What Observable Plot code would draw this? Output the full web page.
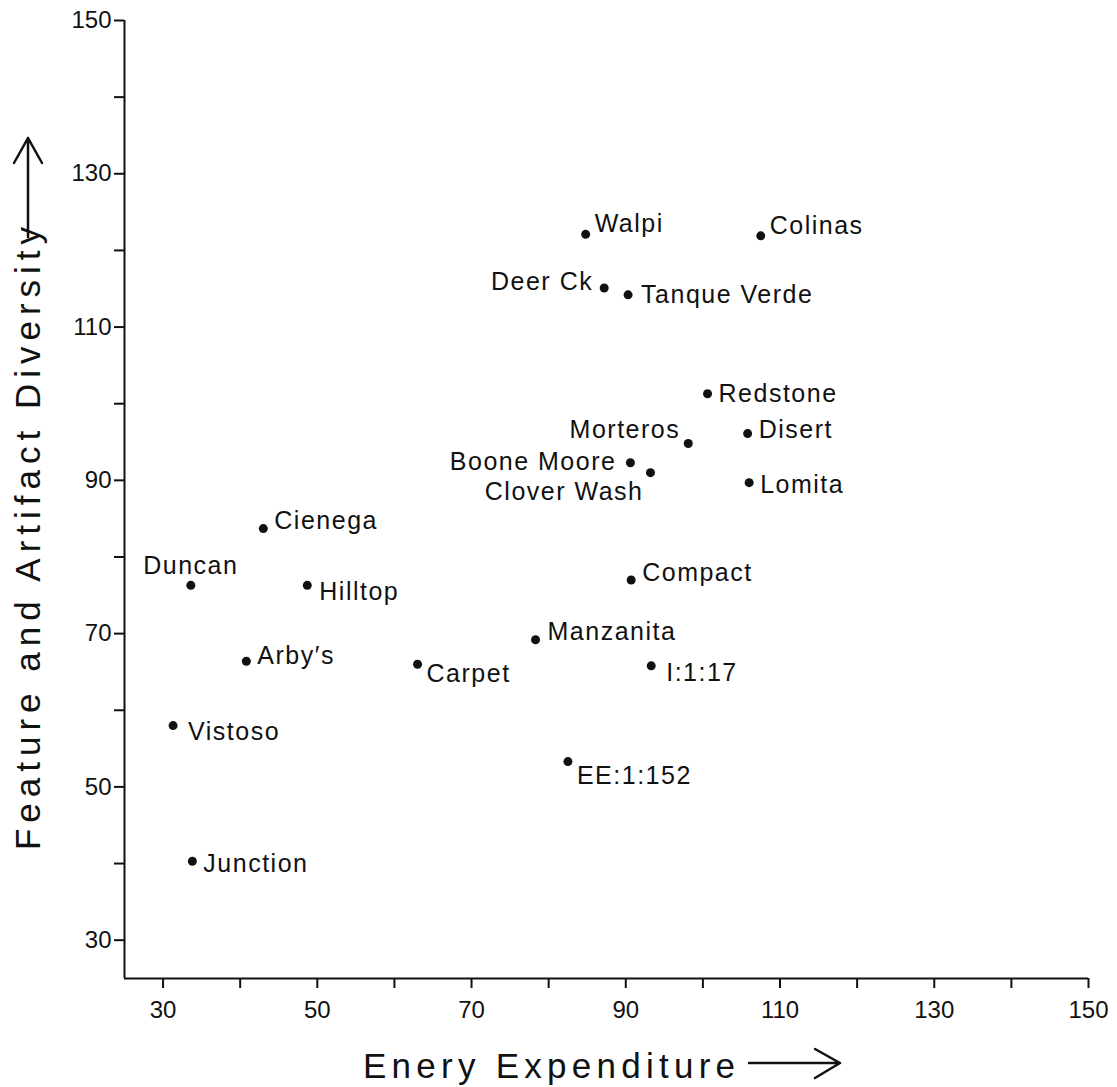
<!DOCTYPE html>
<html>
<head>
<meta charset="utf-8">
<script src="https://cdn.jsdelivr.net/npm/d3@7"></script>
<script src="https://cdn.jsdelivr.net/npm/@observablehq/plot@0.6"></script>
<style>
  html, body { margin: 0; padding: 0; background: #fff; }
  #chart svg text { fill: #111; }
  #chart svg g[aria-label="x-axis tick label"] text,
  #chart svg g[aria-label="y-axis tick label"] text { font-size: 24px; }
  #chart svg g[aria-label="x-axis tick label"],
  #chart svg g[aria-label="y-axis tick label"] { font-size: 24px; }
  .pt-label { letter-spacing: 1.5px; }
</style>
</head>
<body>
<div id="chart"></div>
<script>
// ---- data ----
const sites = ["Walpi","Colinas","Deer Ck","Tanque Verde","Redstone","Morteros","Disert",
  "Boone Moore","Clover Wash","Lomita","Cienega","Duncan","Hilltop","Compact","Manzanita",
  "Arby's","Carpet","I:1:17","Vistoso","EE:1:152","Junction"];
const energy = [84.8,107.5,87.2,90.3,100.6,98.1,105.8,90.6,93.2,106.0,43.0,33.6,48.7,90.7,78.3,
  40.8,63.0,93.3,31.3,82.5,33.8];
const diversity = [122.1,121.9,115.1,114.2,101.3,94.8,96.1,92.3,91.0,89.7,83.7,76.3,76.3,77.0,69.2,
  66.4,66.0,65.8,58.0,53.3,40.3];
const xTicks = [30,40,50,60,70,80,90,100,110,120,130,140,150];
const yTicks = [30,40,50,60,70,80,90,100,110,120,130,140,150];
const xTitle = "Enery Expenditure";
const yTitle = "Feature and Artifact Diversity";

const data = sites.map((name, i) => ({name, x: energy[i], y: diversity[i]}));

// label placement (layout only): [anchor, dx, dy]
const placement = {
  "Walpi": ["start", 9, -10], "Colinas": ["start", 9, -10], "Deer Ck": ["end", -11, -6],
  "Tanque Verde": ["start", 13, 0], "Redstone": ["start", 11, 0], "Morteros": ["end", -8, -14],
  "Disert": ["start", 11, -4], "Boone Moore": ["end", -14, -1], "Clover Wash": ["end", -7, 19],
  "Lomita": ["start", 11, 2], "Cienega": ["start", 11, -8], "Duncan": ["middle", 0, -19],
  "Hilltop": ["start", 12, 7], "Compact": ["start", 11, -7], "Manzanita": ["start", 12, -8],
  "Arby's": ["start", 11, -5], "Carpet": ["start", 9, 10], "I:1:17": ["start", 15, 7],
  "Vistoso": ["start", 15, 6], "EE:1:152": ["start", 9, 14], "Junction": ["start", 11, 3]
};

const font = "'Liberation Sans', Arial, sans-serif";
const fmt = d => ((d - 30) % 20 === 0 ? String(d) : "");

const labelMarks = sites.map(n => {
  const [anchor, dx, dy] = placement[n];
  return Plot.text(data.filter(d => d.name === n), {
    x: "x", y: "y", text: d => d.name.replace("'", "\u2032"),
    textAnchor: anchor, dx, dy, fontSize: 25, fill: "#111", className: "pt-label"
  });
});

const chart = Plot.plot({
  width: 1117,
  height: 1087,
  marginLeft: 124,
  marginRight: 29,
  marginTop: 20,
  marginBottom: 109,
  style: {fontFamily: font, fontSize: "24px", color: "#111", background: "#fff"},
  x: {domain: [25, 150]},
  y: {domain: [25, 150]},
  marks: [
    Plot.axisX({ticks: xTicks, tickFormat: fmt, tickSize: 10, tickPadding: 12, strokeWidth: 2, label: null, fontSize: 24}),
    Plot.axisY({ticks: yTicks, tickFormat: fmt, tickSize: 10, tickPadding: 3, strokeWidth: 2, label: null, fontSize: 24}),
    Plot.ruleX([25], {stroke: "#111", strokeWidth: 2}),
    Plot.ruleY([25], {stroke: "#111", strokeWidth: 2}),
    Plot.dot(data, {x: "x", y: "y", r: 4.5, fill: "#111", stroke: null}),
    ...labelMarks
  ]
});

document.getElementById("chart").appendChild(chart);

// axis titles with arrows
const svg = d3.select(chart);
svg.append("text")
  .attr("x", 363).attr("y", 1078)
  .attr("text-anchor", "start")
  .attr("textLength", 372).attr("lengthAdjust", "spacing")
  .style("font-family", font).style("font-size", "35px").style("fill", "#111")
  .text(xTitle);
svg.append("path")
  .attr("d", "M749,1063 L840,1063 M815,1049 L840,1063 L815,1078")
  .attr("fill", "none").attr("stroke", "#111").attr("stroke-width", 2.5)
  .attr("stroke-linecap", "round").attr("stroke-linejoin", "round");

svg.append("text")
  .attr("transform", "translate(40,850) rotate(-90)")
  .attr("text-anchor", "start")
  .attr("textLength", 623).attr("lengthAdjust", "spacing")
  .style("font-family", font).style("font-size", "35px").style("fill", "#111")
  .text(yTitle);
svg.append("path")
  .attr("d", "M28,237 L28,138 M14,163 L28,138 L42,163")
  .attr("fill", "none").attr("stroke", "#111").attr("stroke-width", 2.5)
  .attr("stroke-linecap", "round").attr("stroke-linejoin", "round");
</script>
</body>
</html>
